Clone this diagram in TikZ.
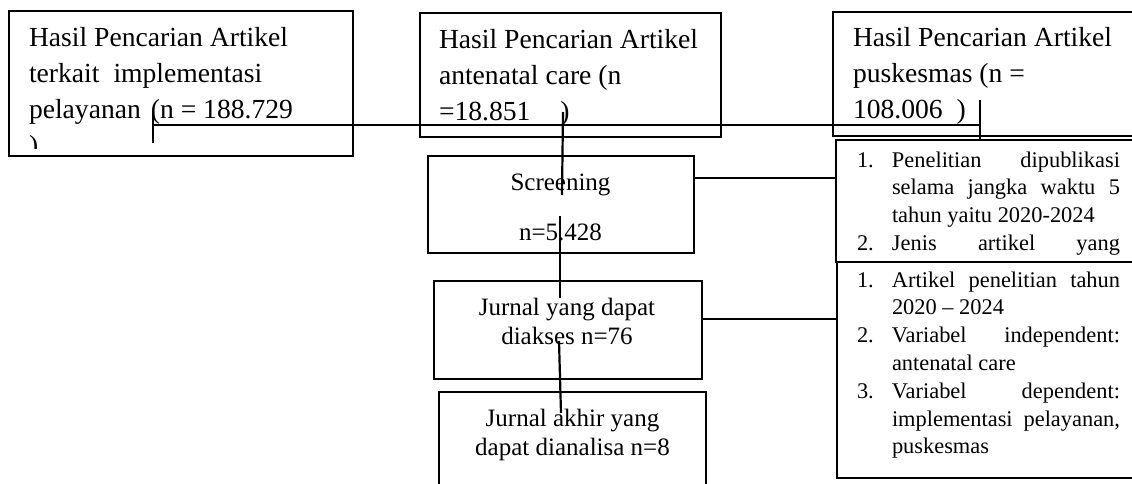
\documentclass[tikz,border=0pt]{standalone}
\usepackage{fontspec}
\setmainfont{Liberation Serif}
\newcommand\ftop{\fontsize{13.8}{18}\selectfont}
\newcommand\fmid{\fontsize{12.5}{14.5}\selectfont}
\newcommand\fside{\fontsize{11.2}{13.9}\selectfont}
\newcommand\itm[1]{\makebox[17.5pt][l]{#1}}
\newcommand\jl[1]{\hbox to 114pt{\spaceskip=0pt\xspaceskip=0pt #1}}
\newcommand\rigidspace{\spaceskip=\fontdimen2\font\xspaceskip=\fontdimen2\font\relax}
\begin{document}
\begin{tikzpicture}[x=0.5pt,y=-0.5pt,
  box/.style={draw, line width=0.8pt, rectangle, inner sep=0pt, outer sep=0pt, anchor=north west, fill=white},
  txt/.style={inner sep=0pt, outer sep=0pt, anchor=base west, align=left,
    execute at begin node={\rigidspace}},
  ctxt/.style={inner sep=0pt, outer sep=0pt, anchor=base, align=center, text width=140pt,
    execute at begin node={\rigidspace}},
  conn/.style={line width=1.1pt}]
\useasboundingbox (0,0) rectangle (1132,483);
\clip (0,0) rectangle (1132,483);

% top boxes
\node[box, minimum width=172pt, minimum height=72.5pt] (b1) at (9,11) {};
\node[box, minimum width=150.5pt, minimum height=62pt] (b2) at (420,13) {};
\node[box, minimum width=155pt, minimum height=62pt] (b3) at (833,12) {};

\node[txt, text width=170pt, font=\ftop] (t1) at (29,46)
  {Hasil Pencarian Artikel\\terkait\hspace{7pt}implementasi\\pelayanan\hspace{5pt}(n = 188.729};
\begin{scope}
  \clip (9,11) rectangle (353,148);
  \node[txt, font=\ftop] (t1b) at (29,154) {)};
\end{scope}
\node[txt, text width=150pt, font=\ftop] (t2) at (439,48)
  {Hasil Pencarian Artikel\\antenatal care (n\\=18.851\hspace{15pt})};
\node[txt, text width=150pt, font=\ftop] (t3) at (853,46)
  {Hasil Pencarian Artikel\\puskesmas (n =\\108.006\hspace{7pt})};

% right criteria boxes
\node[box, minimum width=155pt, minimum height=61pt] (b4) at (836,140) {};
\node[txt, text width=132pt, font=\fside] (t4) at (857,167)
  {\itm{1.}\jl{Penelitian\hfill dipublikasi}\\
   \hspace*{17.5pt}\jl{selama jangka waktu 5}\\
   \hspace*{17.5pt}tahun yaitu 2020-2024\\
   \itm{2.}\jl{Jenis\hfill artikel\hfill yang}};
\node[box, minimum width=155pt, minimum height=108pt] (b5) at (837,262) {};
\node[txt, text width=132pt, font=\fside] (t5) at (857,287)
  {\itm{1.}\jl{Artikel penelitian tahun}\\
   \hspace*{17.5pt}2020 -- 2024\\
   \itm{2.}\jl{Variabel\hfill independent:}\\
   \hspace*{17.5pt}antenatal care\\
   \itm{3.}\jl{Variabel\hfill dependent:}\\
   \hspace*{17.5pt}\jl{implementasi pelayanan,}\\
   \hspace*{17.5pt}puskesmas};

% middle boxes
\node[box, minimum width=133pt, minimum height=48.5pt] (scr) at (428,156) {};
\node[ctxt, font=\fmid] (ts1) at (560.5,190) {Screening};
\node[ctxt, font=\fmid] (ts2) at (560.5,240) {n=5.428};
\node[box, minimum width=134pt, minimum height=49pt] (acc) at (434,281) {};
\node[ctxt, font=\fmid] (ta) at (567,315) {Jurnal yang dapat\\diakses n=76};
\node[box, minimum width=133.5pt, minimum height=55pt] (fin) at (439,392) {};
\node[ctxt, font=\fmid] (tf) at (572.5,426) {Jurnal akhir yang\\dapat dianalisa n=8};

% connectors
\coordinate (k1) at (153,113);
\coordinate (k2) at (153,143);
\coordinate (h1) at (153,125);
\coordinate (h2) at (980,125);
\coordinate (r1) at (980,100);
\coordinate (r2) at (980,141);
\coordinate (c1) at (563,112);
\coordinate (c2) at (562,195);
\coordinate (c3) at (560,216);
\coordinate (c4) at (560,298);
\coordinate (c5) at (559,341);
\coordinate (c6) at (561,413);
\coordinate (s1) at (0,178);
\coordinate (a1) at (0,319);

\draw[conn] (k1) -- (k2);
\draw[conn] (h1) -- (h2);
\draw[conn] (r1) -- (r2);
\draw[conn] (c1) -- (c2);
\draw[conn] (c3) -- (c4);
\draw[conn] (c5) -- (c6);
\draw[conn] (scr.east |- s1) -- (b4.west |- s1);
\draw[conn] (acc.east |- a1) -- (b5.west |- a1);
\end{tikzpicture}
\end{document}
